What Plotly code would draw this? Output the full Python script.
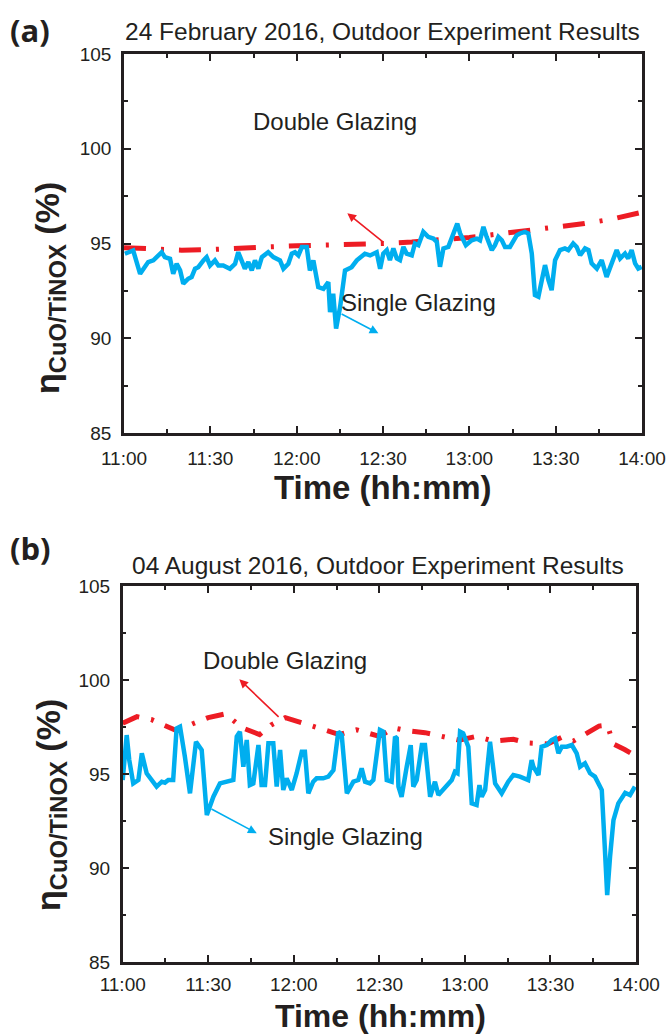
import pandas as pd
import plotly.graph_objects as go

# ---------------- data ----------------
# minutes after 11:00
single_a_min = [0.3, 3.2, 5.6, 6.7, 8.4, 10.2, 11.9, 13.1, 14.2, 16.0, 17.1, 18.3, 19.5, 20.6, 22.3, 23.5,
                24.7, 25.8, 27.6, 28.7, 29.9, 31.6, 32.8, 34.5, 36.8, 38.6, 39.7, 40.9, 42.0, 43.2, 44.4,
                45.5, 46.7, 47.9, 50.1, 51.9, 54.2, 55.4, 57.1, 58.3, 59.4, 60.6, 61.8, 63.5, 64.6, 65.8,
                67.5, 69.3, 71.0, 71.6, 72.7, 73.7, 75.1, 76.8, 79.1, 80.9, 83.7, 85.5, 87.8, 89.0, 90.1,
                91.3, 92.4, 93.6, 94.8, 95.9, 97.1, 98.2, 100.0, 101.1, 102.3, 104.0, 105.7, 107.5, 108.7,
                109.8, 111.0, 112.7, 114.4, 115.8, 116.8, 118.8, 120.8, 122.6, 123.7, 124.9, 126.0, 127.8,
                128.9, 130.1, 131.3, 132.4, 134.1, 135.3, 136.5, 137.6, 139.3, 140.5, 141.7, 142.8, 144.0,
                145.2, 146.3, 147.5, 148.6, 149.8, 151.5, 153.2, 154.4, 156.1, 157.3, 158.5, 160.2, 161.4,
                162.5, 164.3, 166.0, 167.7, 169.5, 171.2, 172.4, 174.1, 175.2, 176.4, 177.6, 178.7, 179.9]
single_a_val = [94.46, 94.63, 93.40, 93.67, 94.02, 94.11, 94.37, 94.54, 94.28, 94.19, 93.40, 93.93, 93.58,
                92.88, 93.14, 93.23, 93.67, 93.75, 94.11, 94.28, 93.84, 94.11, 93.84, 93.84, 93.67, 93.93,
                94.54, 94.11, 93.67, 94.02, 93.58, 94.11, 93.67, 94.28, 94.54, 94.28, 94.11, 93.67, 93.93,
                94.46, 94.54, 94.37, 94.81, 94.81, 93.58, 94.11, 92.70, 92.61, 92.96, 91.38, 92.35, 90.51,
                91.65, 93.58, 93.75, 94.11, 94.46, 94.37, 94.54, 93.67, 94.47, 94.65, 94.12, 94.74, 94.21,
                94.12, 94.82, 94.47, 94.38, 95.00, 94.91, 95.61, 95.35, 95.26, 95.09, 93.77, 94.74, 94.82,
                95.53, 96.05, 95.53, 94.91, 95.17, 95.26, 95.17, 95.88, 95.35, 94.65, 94.91, 95.35, 95.17,
                94.82, 94.82, 95.09, 95.44, 95.53, 95.61, 95.53, 94.47, 92.28, 92.19, 93.07, 93.86, 93.07,
                92.54, 94.12, 94.65, 94.74, 94.65, 95.00, 94.82, 94.38, 94.74, 94.65, 93.95, 93.68, 94.12,
                93.24, 94.03, 94.65, 94.21, 94.47, 94.21, 94.65, 93.95, 93.68, 93.77]

double_a_min = [0, 10, 20, 30, 40, 50, 60, 70, 80, 90, 100, 110, 120, 130, 140, 150, 160, 170, 180]
double_a_val = [94.78, 94.70, 94.65, 94.68, 94.78, 94.82, 94.88, 94.90, 94.95, 95.00, 95.08, 95.18,
                95.32, 95.50, 95.68, 95.85, 96.05, 96.30, 96.65]

single_b_min = [0, 1.4, 2.3, 3.7, 5.5, 6.7, 8.4, 10.2, 11.9, 13.7, 14.8, 16.0, 17.7, 18.9, 20.1, 21.8, 23.6,
                25.7, 27.7, 29.5, 31.8, 34.1, 37.0, 38.8, 40.0, 41.1, 42.3, 43.5, 44.6, 45.8, 47.6, 48.7,
                49.9, 51.1, 52.8, 54.0, 55.2, 56.3, 57.5, 59.3, 61.0, 62.8, 63.9, 65.1, 66.8, 68.0, 70.3,
                72.1, 73.9, 75.6, 76.8, 78.6, 80.9, 82.6, 83.8, 85.0, 86.7, 87.9, 90.2, 91.4, 92.6, 94.3,
                95.5, 96.1, 96.7, 97.8, 99.6, 101.0, 101.9, 103.1, 104.9, 106.0, 107.8, 109.5, 110.7,
                113.0, 115.4, 116.5, 117.4, 118.3, 119.4, 121.2, 122.4, 124.1, 125.1, 125.9, 127.1, 128.8,
                130.6, 132.9, 135.2, 137.0, 139.3, 142.2, 143.4, 144.0, 145.8, 146.9, 148.7, 150.4, 151.6,
                152.8, 154.0, 155.7, 157.5, 159.2, 160.4, 162.1, 163.9, 165.6, 168.0, 169.1, 169.9, 170.9,
                172.1, 173.8, 176.2, 177.9, 179.6]
single_b_val = [94.68, 97.07, 95.74, 94.50, 94.68, 96.10, 95.04, 94.68, 94.33, 94.59, 94.54, 94.68, 94.68,
                97.43, 97.52, 95.92, 93.97, 96.72, 96.28, 92.82, 93.79, 94.50, 94.59, 94.68, 96.99, 97.25,
                95.39, 96.81, 94.41, 94.50, 96.54, 94.41, 94.41, 96.63, 96.63, 94.33, 96.28, 94.15, 94.77,
                94.15, 95.04, 96.19, 96.19, 93.97, 94.59, 94.77, 94.77, 94.86, 95.21, 97.25, 97.07, 93.97,
                94.59, 94.68, 95.30, 94.59, 94.50, 94.68, 97.34, 97.25, 94.68, 94.59, 96.99, 96.90, 94.33,
                93.79, 95.39, 96.54, 94.33, 94.68, 96.54, 96.54, 93.79, 94.59, 93.88, 94.24, 94.68, 95.12,
                95.04, 97.25, 97.16, 96.45, 93.44, 93.35, 94.41, 93.79, 94.15, 96.72, 94.50, 93.97, 94.59,
                94.95, 94.86, 94.68, 95.74, 95.39, 94.95, 96.45, 96.54, 96.81, 96.90, 96.10, 96.45, 96.45,
                96.54, 96.10, 95.39, 95.57, 95.04, 94.86, 94.15, 90.96, 88.56, 90.60, 92.55, 93.44, 94.00,
                93.88, 94.33]

double_b_min = [0, 5, 10, 15, 19, 25, 30, 36, 42, 48, 52, 57, 63, 70, 76, 82, 90, 95, 100, 106, 112, 118,
                124, 130, 137, 142, 149, 154, 158, 163, 167, 170, 172, 176, 180]
double_b_val = [97.70, 98.05, 97.90, 97.60, 97.30, 97.70, 98.00, 98.20, 97.45, 97.10, 97.60, 98.00, 97.70,
                97.40, 97.10, 97.35, 97.00, 97.45, 97.30, 97.20, 97.00, 96.80, 97.00, 96.75, 96.85, 96.65,
                96.60, 96.95, 96.75, 97.20, 97.55, 97.60, 96.60, 96.30, 95.95]

date_a = "2016-02-24"
date_b = "2016-08-04"
titles = ["24 February 2016, Outdoor Experiment Results", "04 August 2016, Outdoor Experiment Results"]
panel_letters = ["(a)", "(b)"]
y_ticks = [85, 90, 95, 100, 105]

BLUE = "#00AEEF"
RED = "#ED1C24"
INK = "#231F20"
FONT = "Liberation Sans, Arial, sans-serif"


def to_time(day, mins):
    base = pd.Timestamp(day + " 11:00")
    return [base + pd.Timedelta(minutes=m) for m in mins]


def ts(day, m):
    return (pd.Timestamp(day + " 11:00") + pd.Timedelta(minutes=m)).strftime("%Y-%m-%d %H:%M:%S")


fig = go.Figure()
fig.add_trace(go.Scatter(x=to_time(date_a, double_a_min), y=double_a_val, mode="lines",
                         line=dict(color=RED, width=5, dash="22px,15px,3px,15px"),
                         xaxis="x", yaxis="y", showlegend=False))
fig.add_trace(go.Scatter(x=to_time(date_a, single_a_min), y=single_a_val, mode="lines",
                         line=dict(color=BLUE, width=4.5), xaxis="x", yaxis="y", showlegend=False))
fig.add_trace(go.Scatter(x=to_time(date_b, double_b_min), y=double_b_val, mode="lines",
                         line=dict(color=RED, width=5, dash="18px,12px,3px,12px"),
                         xaxis="x2", yaxis="y2", showlegend=False))
fig.add_trace(go.Scatter(x=to_time(date_b, single_b_min), y=single_b_val, mode="lines",
                         line=dict(color=BLUE, width=4.5), xaxis="x2", yaxis="y2", showlegend=False))


def xax(domain, anchor, day, standoff):
    return dict(domain=domain, anchor=anchor, type="date", automargin=False,
                range=[ts(day, 0), ts(day, 180)], dtick=30 * 60 * 1000, tick0=ts(day, 0),
                tickformat="%H:%M", showline=True, linewidth=2.5, linecolor=INK, mirror="ticks",
                ticks="inside", ticklen=7, tickwidth=2, tickcolor=INK,
                minor=dict(ticks="inside", ticklen=4, tickwidth=1.5, tickcolor=INK, dtick=15 * 60 * 1000),
                showgrid=False, zeroline=False, tickfont=dict(family=FONT, size=19, color=INK),
                ticklabelstandoff=standoff)


def yax(domain, anchor):
    return dict(domain=domain, anchor=anchor, range=[85, 105], tickvals=y_ticks, automargin=False,
                showline=True, linewidth=2.5, linecolor=INK, mirror="ticks",
                ticks="inside", ticklen=7, tickwidth=2, tickcolor=INK,
                minor=dict(ticks="inside", ticklen=4, tickwidth=1.5, tickcolor=INK, dtick=2.5, tick0=85),
                showgrid=False, zeroline=False, tickfont=dict(family=FONT, size=19, color=INK),
                ticklabelstandoff=6)


W, H = 670, 1035
fig.update_layout(
    width=W, height=H, margin=dict(l=0, r=0, t=0, b=0, autoexpand=False),
    paper_bgcolor="white", plot_bgcolor="white",
    xaxis=xax([124 / W, 642 / W], "y", date_a, 6),
    yaxis=yax([1 - 433 / H, 1 - 54 / H], "x"),
    xaxis2=xax([122.7 / W, 636 / W], "y2", date_b, 3),
    yaxis2=yax([1 - 962 / H, 1 - 586 / H], "x2"),
)

ann = []
# panel letters and titles
for i, (cy_letter, cy_title, cx_title) in enumerate([(30, 31, 382), (548, 565, 378)]):
    ann.append(dict(text="<b>" + panel_letters[i] + "</b>", x=30 / W, y=1 - cy_letter / H, xref="paper",
                    yref="paper", showarrow=False, xanchor="center", yanchor="middle",
                    font=dict(family="Open Sans, Liberation Sans", size=31, color=INK)))
    ann.append(dict(text=titles[i], x=cx_title / W, y=1 - cy_title / H, xref="paper", yref="paper",
                    showarrow=False, xanchor="center", yanchor="middle",
                    font=dict(family=FONT, size=24.5, color=INK)))

# axis titles
ann.append(dict(text="<b>Time (hh:mm)</b>", x=383 / W, y=1 - 487 / H, xref="paper", yref="paper",
                showarrow=False, xanchor="center", yanchor="middle", borderpad=0,
                font=dict(family=FONT, size=33, color=INK)))
ann.append(dict(text="<b>Time (hh:mm)</b>", x=380 / W, y=1 - 1034.5 / H, xref="paper", yref="paper",
                showarrow=False, xanchor="center", yanchor="bottom", borderpad=0,
                font=dict(family=FONT, size=32, color=INK)))
for cy_y in [288, 805]:
    ann.append(dict(text="<b>η<sub>CuO/TiNOX</sub> (%)</b>", x=50 / W, y=1 - cy_y / H, xref="paper",
                    yref="paper", showarrow=False, xanchor="center", yanchor="middle", textangle=-90,
                    font=dict(family=FONT, size=34, color=INK)))

# series labels
for xr, yr, day, m, v, t in [("x", "y", date_a, 73.3, 101.46, "Double Glazing"),
                             ("x", "y", date_a, 102.2, 91.91, "Single Glazing"),
                             ("x2", "y2", date_b, 57.0, 101.06, "Double Glazing"),
                             ("x2", "y2", date_b, 78.3, 91.65, "Single Glazing")]:
    ann.append(dict(text=t, x=ts(day, m), y=v, xref=xr, yref=yr, showarrow=False,
                    xanchor="center", yanchor="middle", font=dict(family=FONT, size=24, color=INK)))

# arrows (head at x,y ; tail at ax,ay)
for xr, yr, day, hm, hv, tm, tv, col in [("x", "y", date_a, 77.6, 96.6, 90.7, 95.0, RED),
                                         ("x", "y", date_a, 88.4, 90.26, 75.1, 91.32, BLUE),
                                         ("x2", "y2", date_b, 40.9, 100.04, 55.2, 97.96, RED),
                                         ("x2", "y2", date_b, 47.0, 91.85, 30.6, 93.18, BLUE)]:
    ann.append(dict(x=ts(day, hm), y=hv, ax=ts(day, tm), ay=tv, xref=xr, yref=yr, axref=xr, ayref=yr,
                    showarrow=True, arrowhead=2, arrowsize=1.1, arrowwidth=1.6, arrowcolor=col, text=""))

fig.update_layout(annotations=ann)
fig.write_html("out.html")
